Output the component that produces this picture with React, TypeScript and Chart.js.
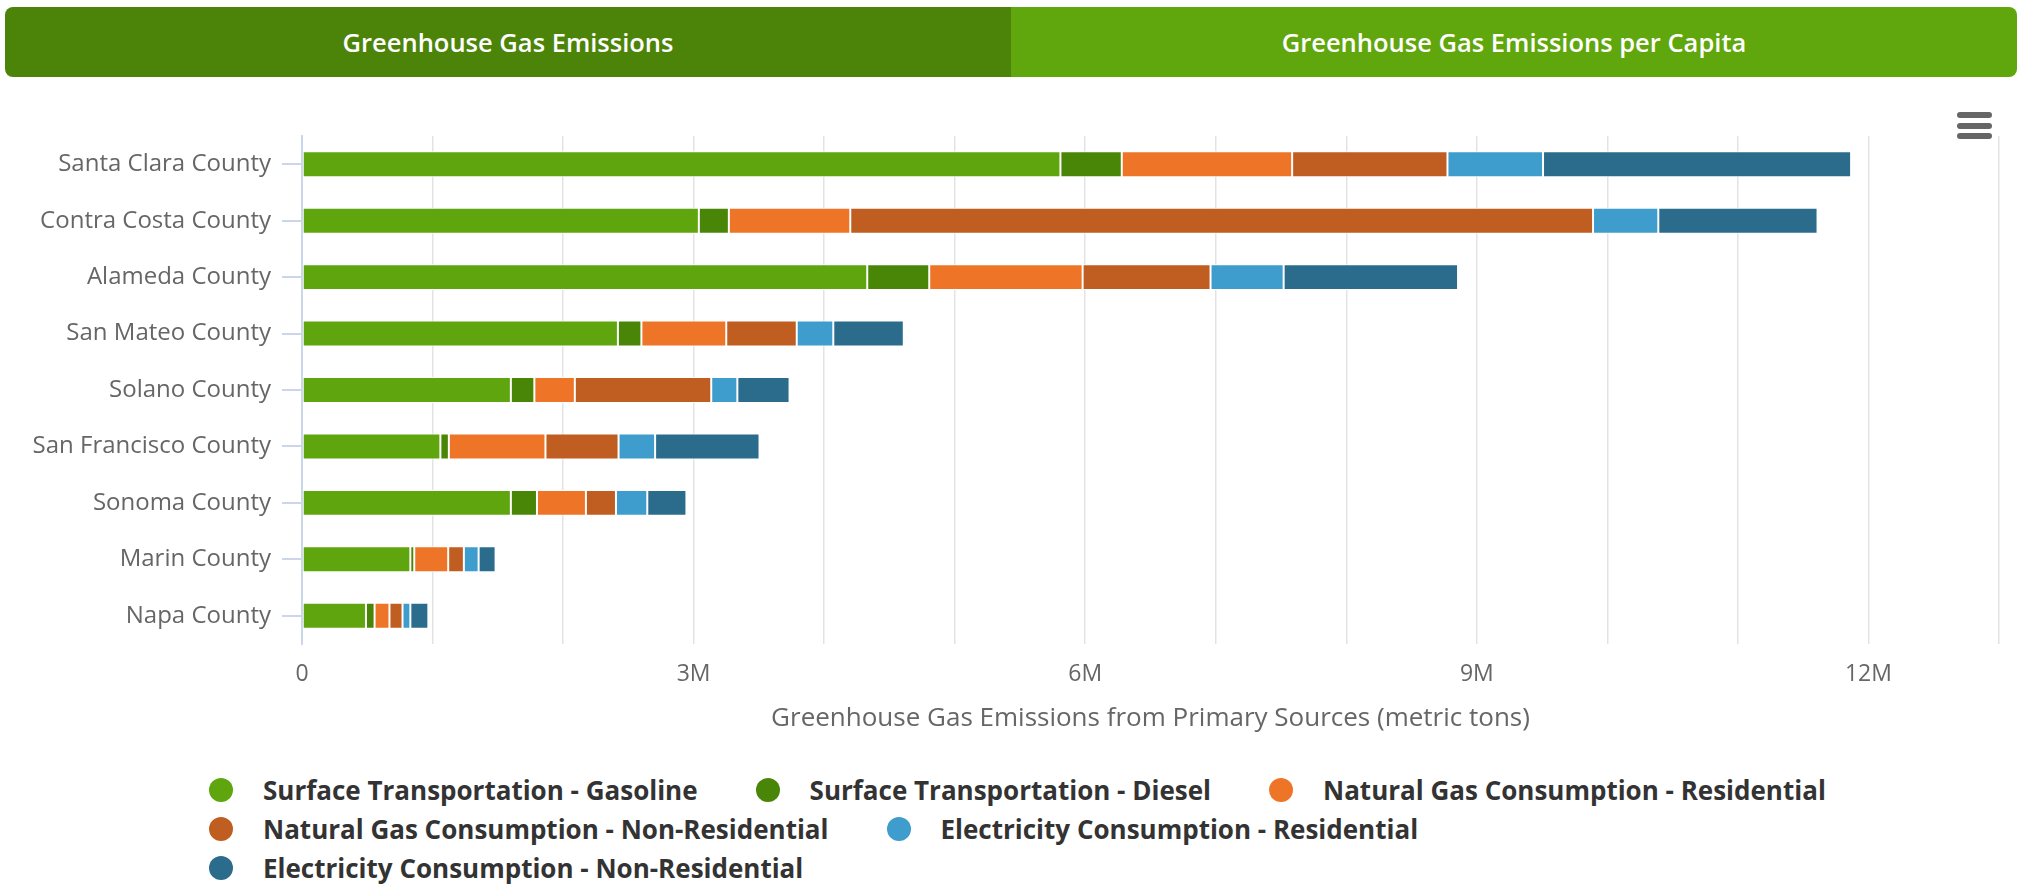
import React, { useEffect, useRef } from 'react';
import { Chart, registerables } from 'chart.js';

Chart.register(...registerables);

const counties = [
  'Santa Clara County',
  'Contra Costa County',
  'Alameda County',
  'San Mateo County',
  'Solano County',
  'San Francisco County',
  'Sonoma County',
  'Marin County',
  'Napa County',
];

const seriesNames = [
  'Surface Transportation - Gasoline',
  'Surface Transportation - Diesel',
  'Natural Gas Consumption - Residential',
  'Natural Gas Consumption - Non-Residential',
  'Electricity Consumption - Residential',
  'Electricity Consumption - Non-Residential',
];

const seriesColors = ['#5fa50e', '#498608', '#ee7428', '#c05d21', '#3e9dcd', '#2b6c8d'];

const gasoline = [5810000, 3040000, 4330000, 2420000, 1600000, 1060000, 1600000, 830000, 490000];
const diesel = [470000, 230000, 475000, 180000, 180000, 65000, 200000, 30000, 66000];
const ngResidential = [1305000, 930000, 1175000, 650000, 310000, 740000, 375000, 260000, 114000];
const ngNonResidential = [1190000, 5690000, 980000, 540000, 1045000, 560000, 230000, 120000, 100000];
const elecResidential = [732000, 500000, 560000, 280000, 200000, 280000, 240000, 113000, 60000];
const elecNonResidential = [2360000, 1220000, 1336000, 540000, 400000, 800000, 300000, 130000, 138000];

const seriesValues = [gasoline, diesel, ngResidential, ngNonResidential, elecResidential, elecNonResidential];

const tabLabels = ['Greenhouse Gas Emissions', 'Greenhouse Gas Emissions per Capita'];
const axisTitle = 'Greenhouse Gas Emissions from Primary Sources (metric tons)';

const FONT = "'Open Sans', 'Noto Sans', sans-serif";

function ChartCanvas() {
  const ref = useRef<HTMLCanvasElement | null>(null);
  useEffect(() => {
    if (!ref.current) return;
    const chart = new Chart(ref.current, {
      type: 'bar',
      data: {
        labels: counties,
        datasets: seriesNames.map((name, i) => ({
          label: name,
          data: seriesValues[i],
          backgroundColor: seriesColors[i],
          borderColor: '#ffffff',
          borderWidth: 1,
          borderSkipped: false,
          barPercentage: 0.46,
          categoryPercentage: 1,
        })),
      },
      options: {
        indexAxis: 'y',
        responsive: false,
        animation: false,
        events: [],
        layout: { padding: { left: 0, right: 24, top: 136, bottom: 0 } },
        plugins: {
          legend: { display: false },
          tooltip: { enabled: false },
          title: { display: false },
        },
        scales: {
          x: {
            stacked: true,
            min: 0,
            max: 13000000,
            grid: { color: '#e3e3e3', lineWidth: 1.5, drawTicks: false },
            border: { display: false },
            ticks: {
              stepSize: 1000000,
              autoSkip: false,
              maxRotation: 0,
              padding: 17,
              color: '#666666',
              font: { family: FONT, size: 23 },
              callback: (v: any) => {
                const n = Number(v);
                if (n === 0) return '0';
                if (n % 3000000 === 0) return n / 1000000 + 'M';
                return '';
              },
            },
            title: {
              display: true,
              text: axisTitle,
              color: '#666666',
              font: { family: FONT, size: 26 },
              padding: { top: 0, bottom: 14 },
            },
            afterFit: (scale: any) => {
              scale.height = 104;
            },
          },
          y: {
            stacked: true,
            grid: {
              offset: false,
              drawOnChartArea: false,
              drawTicks: true,
              tickLength: 20,
              color: '#ccd6eb',
              lineWidth: 2,
            },
            border: { display: true, color: '#ccd6eb', width: 2 },
            ticks: {
              padding: 11,
              color: '#666666',
              font: { family: FONT, size: 24 },
            },
            afterFit: (scale: any) => {
              scale.width = 302;
            },
          },
        },
      },
    });
    return () => chart.destroy();
  }, []);
  return <canvas ref={ref} width={2023} height={748} style={{ display: 'block', width: 2023, height: 748 }} />;
}

export default function App() {
  return (
    <div style={{ position: 'absolute', left: 0, top: 0, width: 2023, height: 887, background: '#ffffff', fontFamily: FONT, overflow: 'hidden' }}>
      <div style={{ position: 'absolute', left: 0, top: 0 }}>
        <ChartCanvas />
      </div>
      <div
        style={{
          position: 'absolute',
          left: 5,
          top: 7,
          width: 2012,
          height: 70,
          borderRadius: 8,
          overflow: 'hidden',
          display: 'flex',
        }}
      >
        {tabLabels.map((t, i) => (
          <div
            key={t}
            style={{
              width: 1006,
              height: 70,
              background: i === 0 ? '#4b8408' : '#60a70d',
              color: '#ffffff',
              fontSize: 25.5,
              fontWeight: 600,
              display: 'flex',
              alignItems: 'center',
              justifyContent: 'center',
            }}
          >
            {t}
          </div>
        ))}
      </div>
      <div style={{ position: 'absolute', left: 1957, top: 112, width: 35 }}>
        {[0, 1, 2].map((k) => (
          <div key={k} style={{ height: 6, borderRadius: 3, background: '#666666', marginBottom: 4.5 }} />
        ))}
      </div>
      <div
        style={{
          position: 'absolute',
          left: 209,
          top: 772,
          width: 1720,
          display: 'flex',
          flexWrap: 'wrap',
          rowGap: 4,
        }}
      >
        {seriesNames.map((name, i) => (
          <div key={name} style={{ display: 'flex', alignItems: 'center', height: 35, marginRight: 58 }}>
            <span
              style={{
                display: 'inline-block',
                width: 24,
                height: 24,
                borderRadius: 12,
                background: seriesColors[i],
                marginRight: 30,
              }}
            />
            <span style={{ fontSize: 26, fontWeight: 700, color: '#333333', whiteSpace: 'nowrap' }}>{name}</span>
          </div>
        ))}
      </div>
    </div>
  );
}
